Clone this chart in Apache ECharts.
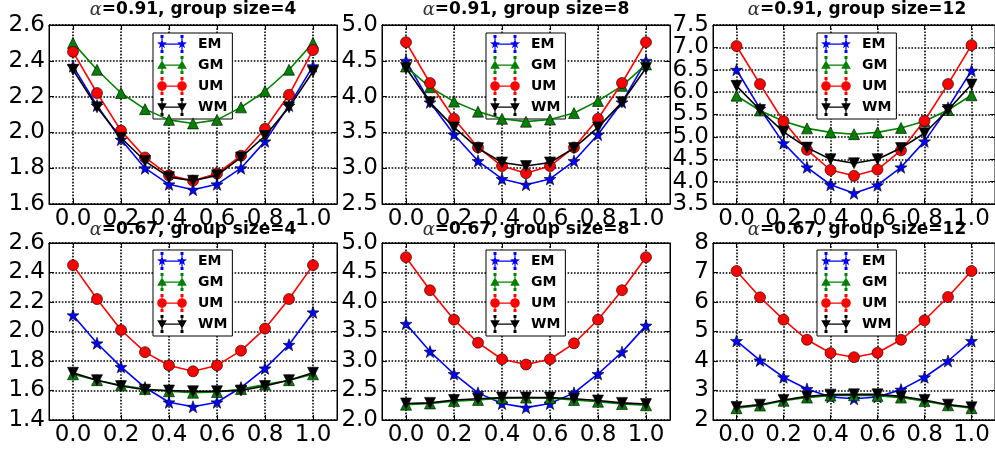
<!DOCTYPE html>
<html>
<head>
<meta charset="utf-8">
<script src="https://cdn.jsdelivr.net/npm/echarts@6/dist/echarts.min.js"></script>
<style>
html,body{margin:0;padding:0;background:#fff;}
#chart{width:995px;height:450px;}
</style>
</head>
<body>
<div id="chart"></div>
<script>
// ---------- data ----------
const xs = [0.0, 0.1, 0.2, 0.3, 0.4, 0.5, 0.6, 0.7, 0.8, 0.9, 1.0];
const xTicks = [0.0, 0.2, 0.4, 0.6, 0.8, 1.0];
const seriesNames = ['EM', 'GM', 'UM', 'WM'];

// alpha = 0.91, group size = 4
const em_a91_g4 = [2.37, 2.15, 1.96, 1.80, 1.71, 1.68, 1.71, 1.80, 1.95, 2.15, 2.37];
const gm_a91_g4 = [2.50, 2.35, 2.22, 2.13, 2.07, 2.05, 2.07, 2.14, 2.23, 2.35, 2.50];
const um_a91_g4 = [2.45, 2.22, 2.01, 1.86, 1.76, 1.73, 1.77, 1.87, 2.02, 2.21, 2.46];
const wm_a91_g4 = [2.35, 2.14, 1.97, 1.84, 1.75, 1.73, 1.76, 1.86, 1.98, 2.14, 2.34];

// alpha = 0.91, group size = 8
const em_a91_g8 = [4.50, 3.92, 3.47, 3.10, 2.85, 2.77, 2.85, 3.10, 3.47, 3.92, 4.50];
const gm_a91_g8 = [4.42, 4.13, 3.93, 3.79, 3.69, 3.65, 3.68, 3.77, 3.94, 4.15, 4.45];
const um_a91_g8 = [4.76, 4.19, 3.69, 3.29, 3.03, 2.93, 3.03, 3.29, 3.69, 4.19, 4.76];
const wm_a91_g8 = [4.40, 3.92, 3.57, 3.28, 3.08, 3.03, 3.08, 3.28, 3.57, 3.92, 4.40];

// alpha = 0.91, group size = 12
const em_a91_g12 = [6.50, 5.63, 4.86, 4.32, 3.93, 3.74, 3.92, 4.32, 4.90, 5.65, 6.48];
const gm_a91_g12 = [5.92, 5.59, 5.35, 5.19, 5.10, 5.06, 5.10, 5.20, 5.35, 5.60, 5.93];
const um_a91_g12 = [7.03, 6.18, 5.35, 4.71, 4.26, 4.13, 4.27, 4.70, 5.36, 6.18, 7.05];
const wm_a91_g12 = [6.14, 5.60, 5.11, 4.76, 4.50, 4.41, 4.50, 4.75, 5.08, 5.60, 6.17];

// alpha = 0.67, group size = 4
const em_a67_g4 = [2.11, 1.92, 1.76, 1.62, 1.52, 1.49, 1.52, 1.62, 1.75, 1.91, 2.13];
const gm_a67_g4 = [1.71, 1.67, 1.635, 1.61, 1.595, 1.585, 1.59, 1.61, 1.64, 1.67, 1.71];
const um_a67_g4 = [2.45, 2.22, 2.01, 1.86, 1.77, 1.73, 1.77, 1.87, 2.02, 2.22, 2.45];
const wm_a67_g4 = [1.72, 1.67, 1.63, 1.605, 1.60, 1.595, 1.595, 1.60, 1.63, 1.67, 1.72];

// alpha = 0.67, group size = 8
const em_a67_g8 = [3.63, 3.16, 2.78, 2.46, 2.28, 2.21, 2.28, 2.46, 2.78, 3.15, 3.60];
const gm_a67_g8 = [2.26, 2.28, 2.32, 2.34, 2.37, 2.38, 2.37, 2.34, 2.31, 2.27, 2.25];
const um_a67_g8 = [4.76, 4.20, 3.70, 3.31, 3.03, 2.94, 3.03, 3.30, 3.70, 4.20, 4.76];
const wm_a67_g8 = [2.28, 2.29, 2.34, 2.36, 2.38, 2.38, 2.38, 2.36, 2.33, 2.29, 2.27];

// alpha = 0.67, group size = 12
const em_a67_g12 = [4.68, 4.02, 3.45, 3.05, 2.78, 2.72, 2.78, 3.03, 3.45, 4.00, 4.68];
const gm_a67_g12 = [2.40, 2.49, 2.65, 2.76, 2.83, 2.84, 2.82, 2.76, 2.64, 2.50, 2.40];
const um_a67_g12 = [7.05, 6.16, 5.40, 4.72, 4.27, 4.13, 4.28, 4.72, 5.38, 6.17, 7.05];
const wm_a67_g12 = [2.44, 2.52, 2.68, 2.80, 2.86, 2.87, 2.87, 2.80, 2.68, 2.52, 2.43];

// panel titles and y tick definitions
const panelAlpha = ['0.91', '0.91', '0.91', '0.67', '0.67', '0.67'];
const panelGroup = ['4', '8', '12', '4', '8', '12'];
const yMin = [1.6, 2.5, 3.5, 1.4, 2.0, 2];
const yMax = [2.6, 5.0, 7.5, 2.6, 5.0, 8];
const yStep = [0.2, 0.5, 0.5, 0.2, 0.5, 1];
const yDecimals = [1, 1, 1, 1, 1, 0];

const panelData = [
  [em_a91_g4, gm_a91_g4, um_a91_g4, wm_a91_g4],
  [em_a91_g8, gm_a91_g8, um_a91_g8, wm_a91_g8],
  [em_a91_g12, gm_a91_g12, um_a91_g12, wm_a91_g12],
  [em_a67_g4, gm_a67_g4, um_a67_g4, wm_a67_g4],
  [em_a67_g8, gm_a67_g8, um_a67_g8, wm_a67_g8],
  [em_a67_g12, gm_a67_g12, um_a67_g12, wm_a67_g12]
];

// ---------- styles ----------
const FONT = 'DejaVu Sans';
const colors = ['#0000ff', '#008000', '#ff0000', '#000000'];

// marker shape builders (shape geometry only)
function starPts(cx, cy, R) {
  let d = '';
  for (let k = 0; k < 10; k++) {
    const a = -Math.PI / 2 + k * Math.PI / 5;
    const rr = k % 2 === 0 ? R : R * 0.4;
    d += (k === 0 ? 'M' : 'L') + (cx + rr * Math.cos(a)).toFixed(2) + ',' + (cy + rr * Math.sin(a)).toFixed(2);
  }
  return d + 'Z';
}
function circlePts(cx, cy, r) {
  return 'M' + (cx - r) + ',' + cy + 'A' + r + ',' + r + ' 0 1 1 ' + (cx + r) + ',' + cy +
         'A' + r + ',' + r + ' 0 1 1 ' + (cx - r) + ',' + cy + 'Z';
}
function triUpPts(cx, cy, r) {
  return 'M' + cx + ',' + (cy - r) + 'L' + (cx + r) + ',' + (cy + r * 0.8) + 'L' + (cx - r) + ',' + (cy + r * 0.8) + 'Z';
}
function triDownPts(cx, cy, r) {
  return 'M' + (cx - r) + ',' + (cy - r * 0.8) + 'L' + (cx + r) + ',' + (cy - r * 0.8) + 'L' + cx + ',' + (cy + r) + 'Z';
}
function rectPts(x, y, w, h) {
  return 'M' + x + ',' + y + 'L' + (x + w) + ',' + y + 'L' + (x + w) + ',' + (y + h) + 'L' + x + ',' + (y + h) + 'Z';
}
const markerFns = [starPts, triUpPts, circlePts, triDownPts];
const markerR = [5.2, 4.8, 4.8, 4.8];

// plot symbols
const symbols = [
  'path://' + starPts(50, 50, 50),
  'triangle',
  'circle',
  'path://' + triDownPts(50, 50, 50)
];
const symbolSizes = [12, 11, 11, 11];

// legend icons: line + errorbar + marker at both ends (30 x 18 box)
function legendIcon(s) {
  const f = markerFns[s], R = markerR[s];
  let d = '';
  d += rectPts(5, 8.4, 20, 1.3);           // line
  d += rectPts(4.4, 1.5, 1.2, 15);         // error bar left
  d += rectPts(24.4, 1.5, 1.2, 15);        // error bar right
  d += rectPts(3.5, 0, 3, 3) + rectPts(3.5, 15, 3, 3);     // caps left
  d += rectPts(23.5, 0, 3, 3) + rectPts(23.5, 15, 3, 3);   // caps right
  d += f(5, 9, R) + f(25, 9, R);
  d += rectPts(0, 8.9, 0.01, 0.01) + rectPts(29.99, 8.9, 0.01, 0.01); // bbox anchors
  return 'path://' + d;
}

const colLeft = [49, 382, 713];
const rowTop = [25, 243];
const rowHeight = [179, 177];
const plotWidth = 288;

const gridLineStyle = { color: '#000', type: 'dotted', width: 1.6, opacity: 1 };
const yLabelBase = { color: '#000', fontFamily: FONT, fontSize: 23, margin: 4 };

const grids = [], xAxes = [], yAxes = [], series = [], titles = [], legends = [];

for (let p = 0; p < 6; p++) {
  const r = Math.floor(p / 3), c = p % 3;
  const fmt = (d => v => Number(v).toFixed(d))(yDecimals[p]);
  grids.push({
    left: colLeft[c], top: rowTop[r], width: plotWidth, height: rowHeight[r],
    show: true, borderColor: '#000', borderWidth: 1, backgroundColor: 'transparent'
  });
  xAxes.push({
    type: 'value', gridIndex: p, min: -0.1, max: 1.1, position: 'bottom',
    axisLine: { show: true, onZero: false, lineStyle: { color: '#000', width: 1 } },
    axisTick: { show: true, inside: true, length: 5, customValues: xTicks, lineStyle: { color: '#000' } },
    axisLabel: { show: true, customValues: xTicks, color: '#000', fontFamily: FONT, fontSize: 23, margin: 4,
      formatter: v => Number(v).toFixed(1) },
    splitLine: { show: true, lineStyle: gridLineStyle }
  });
  xAxes.push({
    type: 'value', gridIndex: p, min: -0.1, max: 1.1, position: 'top',
    axisLine: { show: true, onZero: false, lineStyle: { color: '#000', width: 1 } },
    axisTick: { show: true, inside: true, length: 5, customValues: xTicks, lineStyle: { color: '#000' } },
    axisLabel: { show: false },
    splitLine: { show: false }
  });
  yAxes.push({
    type: 'value', gridIndex: p, min: yMin[p], max: yMax[p], interval: yStep[p], position: 'left',
    axisLine: { show: true, onZero: false, lineStyle: { color: '#000', width: 1 } },
    axisTick: { show: true, inside: true, length: 5, lineStyle: { color: '#000' } },
    axisLabel: Object.assign({ showMinLabel: false, showMaxLabel: false, formatter: fmt }, yLabelBase),
    splitLine: { show: true, lineStyle: gridLineStyle }
  });
  yAxes.push({
    type: 'value', gridIndex: p, min: yMin[p], max: yMax[p], interval: yStep[p], position: 'right',
    axisLine: { show: true, onZero: false, lineStyle: { color: '#000', width: 1 } },
    axisTick: { show: true, inside: true, length: 5, lineStyle: { color: '#000' } },
    axisLabel: { show: false },
    splitLine: { show: false }
  });
  yAxes.push({
    type: 'value', gridIndex: p, min: yMin[p], max: yMax[p], position: 'left', offset: 0,
    axisLine: { show: false }, axisTick: { show: false }, splitLine: { show: false },
    axisLabel: Object.assign({ customValues: [yMin[p], yMax[p]], showMinLabel: true, showMaxLabel: true, formatter: fmt }, yLabelBase)
  });
  for (let s = 0; s < 4; s++) {
    series.push({
      name: seriesNames[s], type: 'line', xAxisIndex: 2 * p, yAxisIndex: 3 * p,
      data: xs.map((x, i) => [x, panelData[p][s][i]]),
      symbol: symbols[s], symbolSize: symbolSizes[s], showSymbol: true,
      lineStyle: { color: colors[s], width: 1.6 },
      itemStyle: { color: colors[s], borderColor: '#000', borderWidth: 0.6 },
      emphasis: { disabled: true }, animation: false, z: 3 + s
    });
  }
  const cx = colLeft[c] + plotWidth / 2;
  titles.push({
    text: '{a|α}{b|=' + panelAlpha[p] + ', group size=' + panelGroup[p] + '}',
    left: cx, textAlign: 'center', top: r === 0 ? 1 : 221,
    padding: 0,
    textStyle: {
      rich: {
        a: { fontFamily: 'DejaVu Serif', fontStyle: 'italic', fontWeight: 'normal', fontSize: 18, color: '#333' },
        b: { fontFamily: FONT, fontWeight: 'bold', fontSize: 17, color: '#000' }
      }
    }
  });
  legends.push({
    data: seriesNames.map((n, s) => ({ name: n, icon: legendIcon(s) })),
    orient: 'vertical',
    left: cx - 40, top: rowTop[r] + (r === 0 ? 8 : 7),
    backgroundColor: '#fff', borderColor: '#000', borderWidth: 1,
    padding: [2, 5, 3, 4], itemGap: 3, itemWidth: 30, itemHeight: 18,
    itemStyle: { borderWidth: 0 },
    textStyle: { fontFamily: FONT, fontWeight: 'bold', fontSize: 14, color: '#000', padding: [0, 0, 0, 6] },
    selectedMode: false
  });
}

const chart = echarts.init(document.getElementById('chart'), null, { renderer: 'canvas' });
chart.setOption({
  animation: false,
  backgroundColor: '#fff',
  title: titles,
  legend: legends,
  grid: grids,
  xAxis: xAxes,
  yAxis: yAxes,
  series: series
});
</script>
</body>
</html>
